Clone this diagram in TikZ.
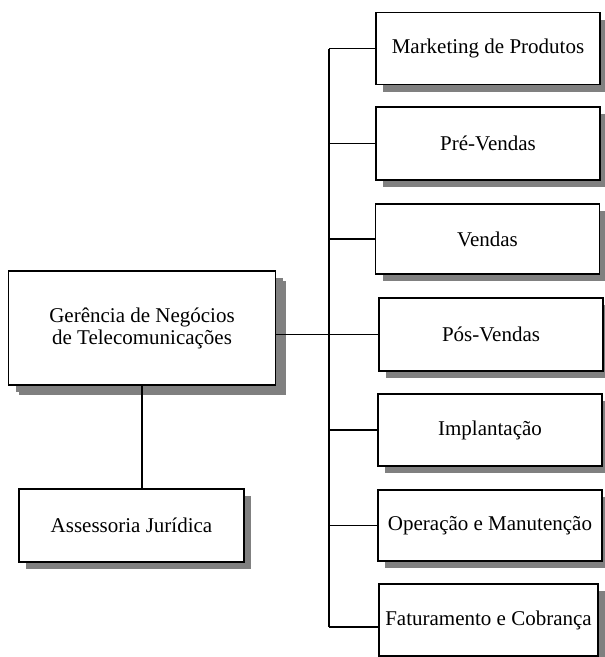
\documentclass[tikz,border=0pt]{standalone}
\usepackage{fontspec}
\setmainfont{Liberation Serif}
\usetikzlibrary{
    positioning,
    shadows
}

\begin{document}
\begin{tikzpicture}[
        x=1pt, y=-1pt,
        every node/.style={
            font=\fontsize{21pt}{22pt}\selectfont
        },
        unit/.style={
            rectangle,
            draw=black,
            line width=1.1pt,
            fill=white,
            align=center,
            inner sep=0pt,
            drop shadow={shadow xshift=7pt, shadow yshift=-7pt,
                fill=black!50, opacity=1}
        },
        head/.style={
            unit,
            minimum width=267pt,
            minimum height=114pt,
            drop shadow={shadow xshift=10pt, shadow yshift=-10pt,
                fill=black!50, opacity=1}
        },
        dept/.style={
            unit,
            minimum width=224pt,
            minimum height=72pt
        },
        link/.style={
            line width=1.3pt,
            draw=black
        }
    ]

    \useasboundingbox (0,0) rectangle (605,657);

    % direction and legal support
    \node[head] (ger) at (142,328)
        {Gerência de Negócios\\
         de Telecomunicações};

    \node[unit, minimum width=225pt, minimum height=73pt] (jur) at (131.5,525.5)
        {Assessoria Jurídica};

    \draw[link] (ger.south) -- (ger.south |- jur.north);

    % departments
    \node[dept] (mkt) at (488,48.5) {Marketing de Produtos};
    \node[dept, minimum height=73pt] (pre) at (488,143.5) {Pré-Vendas};
    \node[dept, minimum height=70pt] (ven) at (487.5,239) {Vendas};
    \node[dept, minimum height=73pt] (pos) at (491,334.5) {Pós-Vendas};
    \node[dept] (imp) at (490,430) {Implantação};
    \node[dept, minimum height=71pt] (ope) at (490,525.5) {Operação e Manutenção};
    \node[dept, minimum width=219pt] (fat) at (488.5,620) {Faturamento e Cobrança};

    \coordinate (bustop) at (329,48.5);
    \coordinate (busbot) at (329,627);

    \draw[link] (bustop) -- (busbot);
    \draw[link] (bustop) -- (mkt.west);
    \draw[link] (pre.west -| bustop) -- (pre.west);
    \draw[link] (ven.west -| bustop) -- (ven.west);
    \draw[link] (ger.east |- pos.west) -- (pos.west);
    \draw[link] (imp.west -| bustop) -- (imp.west);
    \draw[link] (ope.west -| bustop) -- (ope.west);
    \draw[link] (busbot) -- (busbot -| fat.west);

\end{tikzpicture}
\end{document}
